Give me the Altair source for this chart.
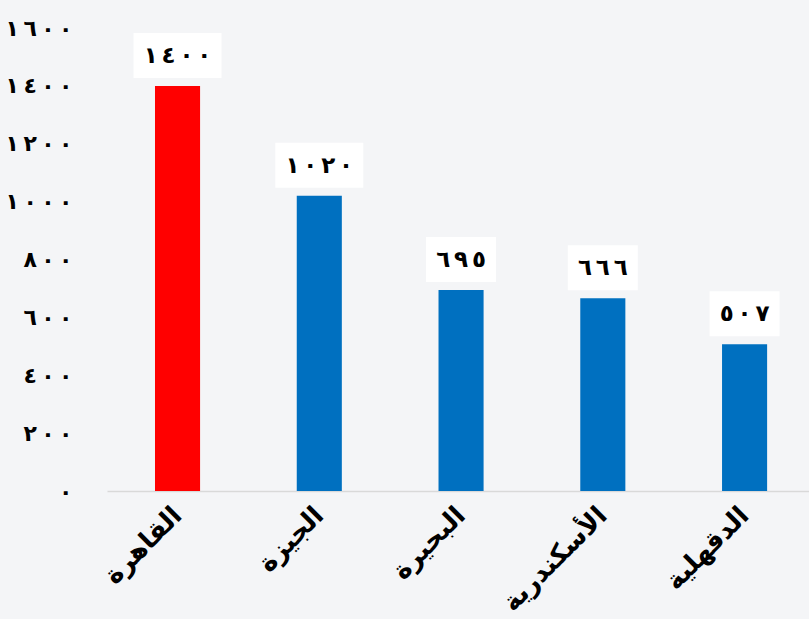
import json
import altair as alt
import pandas as pd

cities = ["القاهرة", "الجيزة", "البحيرة", "الأسكندرية", "الدقهلية"]
values = [1400, 1020, 695, 666, 507]
bar_colors = ["#ff0000", "#0070c0", "#0070c0", "#0070c0", "#0070c0"]
y_ticks = [0, 200, 400, 600, 800, 1000, 1200, 1400, 1600]

AR = str.maketrans("0123456789", "٠١٢٣٤٥٦٧٨٩")


def ar(n, sep):
    # left-to-right override keeps the digit order when separated by spaces
    return "\u202D" + sep.join(str(n).translate(AR)) + "\u202C"


df = pd.DataFrame({
    "city": cities,
    "value": values,
    "color": bar_colors,
    "label": [ar(v, "\u2006") for v in values],
})

FONT = "DejaVu Sans"
label_map = {str(t): ar(t, "\u2009") for t in y_ticks}
y_label_expr = "(" + json.dumps(label_map, ensure_ascii=False) + ")[datum.value]"

x_enc = alt.X(
    "city:N",
    sort=cities,
    scale=alt.Scale(paddingInner=0.682, paddingOuter=0.317, align=0.534),
    axis=alt.Axis(
        title=None, labelAngle=-45, labelAlign="right", labelBaseline="middle",
        labelFontSize=26, labelFontWeight="bold", labelFont=FONT, labelColor="black",
        labelPadding=20, labelLimit=0, ticks=False, domainColor="#d9d9d9",
        domainWidth=1.5, grid=False,
    ),
)
y_scale = alt.Scale(domain=[0, 1600], nice=False)

bars = alt.Chart(df).mark_bar().encode(
    x=x_enc,
    y=alt.Y(
        "value:Q", scale=y_scale,
        axis=alt.Axis(
            title=None, values=y_ticks, labelExpr=y_label_expr, grid=False,
            domain=False, ticks=False, labelPadding=35, labelFontSize=22,
            labelFontWeight="bold", labelFont=FONT, labelColor="black",
        ),
    ),
    color=alt.Color("color:N", scale=None, legend=None),
)

boxes = alt.Chart(df).mark_bar(color="white", yOffset=-8, y2Offset=-53).encode(
    x=alt.X("city:N", sort=cities),
    y=alt.Y("value:Q", scale=y_scale),
    y2=alt.Y2("value"),
    size=alt.condition(alt.datum.value >= 1000, alt.value(88), alt.value(70)),
)

texts = alt.Chart(df).mark_text(
    font=FONT, fontSize=23, fontWeight="bold", color="black",
    baseline="middle", dy=-30,
).encode(
    x=alt.X("city:N", sort=cities),
    y=alt.Y("value:Q", scale=y_scale),
    text="label:N",
)

chart = alt.layer(bars, boxes, texts).properties(
    width=702, height=463,
    autosize=alt.AutoSizeParams(type="none"),
    padding={"left": 107, "top": 28, "right": 0, "bottom": 128},
    background="#f4f5f7",
).configure_view(stroke=None)

chart.save("out.html", embed_options={"renderer": "svg", "actions": False})
